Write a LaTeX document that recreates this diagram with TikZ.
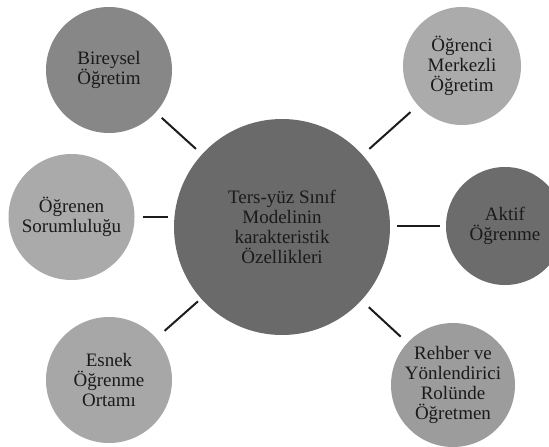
\documentclass[tikz,border=0pt]{standalone}
\usepackage{fontspec}
\setmainfont{Liberation Serif}
\begin{document}
\begin{tikzpicture}[x=1pt,y=-1pt,
  bubble/.style={circle,inner sep=0pt,draw=none,align=center,text=txt,
    font=\fontsize{19}{20}\selectfont},
  link/.style={line width=2pt,draw=lnk,shorten >=8pt,shorten <=8pt}]
\definecolor{txt}{HTML}{1A1A1A}
\definecolor{lnk}{HTML}{1C1C1C}
\definecolor{gcenter}{HTML}{6A6A6A}
\definecolor{gbir}{HTML}{878787}
\definecolor{gogr}{HTML}{ABABAB}
\definecolor{gakt}{HTML}{6C6C6C}
\definecolor{gsor}{HTML}{AAAAAA}
\definecolor{gesn}{HTML}{A7A7A7}
\definecolor{greh}{HTML}{9C9C9C}
\useasboundingbox (0,0) rectangle (549,447);
\clip (0,0) rectangle (549,447);
\fill[white] (0,0) rectangle (549,447);
\node[bubble,fill=gcenter,minimum size=216pt] (C) at (282,227) {Ters-yüz Sınıf\\Modelinin\\karakteristik\\Özellikleri};
\node[bubble,fill=gbir,minimum size=126pt] (B) at (109,70) {Bireysel\\Öğretim};
\node[bubble,fill=gogr,minimum size=118pt] (O) at (462,66) {Öğrenci\\Merkezli\\Öğretim};
\node[bubble,fill=gakt,minimum size=118pt] (A) at (505,226) {Aktif\\Öğrenme};
\node[bubble,fill=gsor,minimum size=126pt] (S) at (71.5,217) {Öğrenen\\Sorumluluğu};
\node[bubble,fill=gesn,minimum size=126pt] (E) at (109,380) {Esnek\\Öğrenme\\Ortamı};
\node[bubble,fill=greh,minimum size=124pt] (R) at (453,385) {Rehber ve\\Yönlendirici\\Rolünde\\Öğretmen};
\draw[link] (B) -- (C);
\draw[link,shorten <=10pt,shorten >=9pt] (O) -- (C);
\draw[link,shorten <=11pt,shorten >=4pt] (E) -- (C);
\draw[link,shorten <=9pt,shorten >=10pt] (R) -- (C);
\draw[link,shorten >=6pt] (S.east) -- (S.east -| C.west);
\draw[link,shorten >=6pt,shorten <=7pt] (C.east |- A.west) -- (A.west);
\end{tikzpicture}
\end{document}
